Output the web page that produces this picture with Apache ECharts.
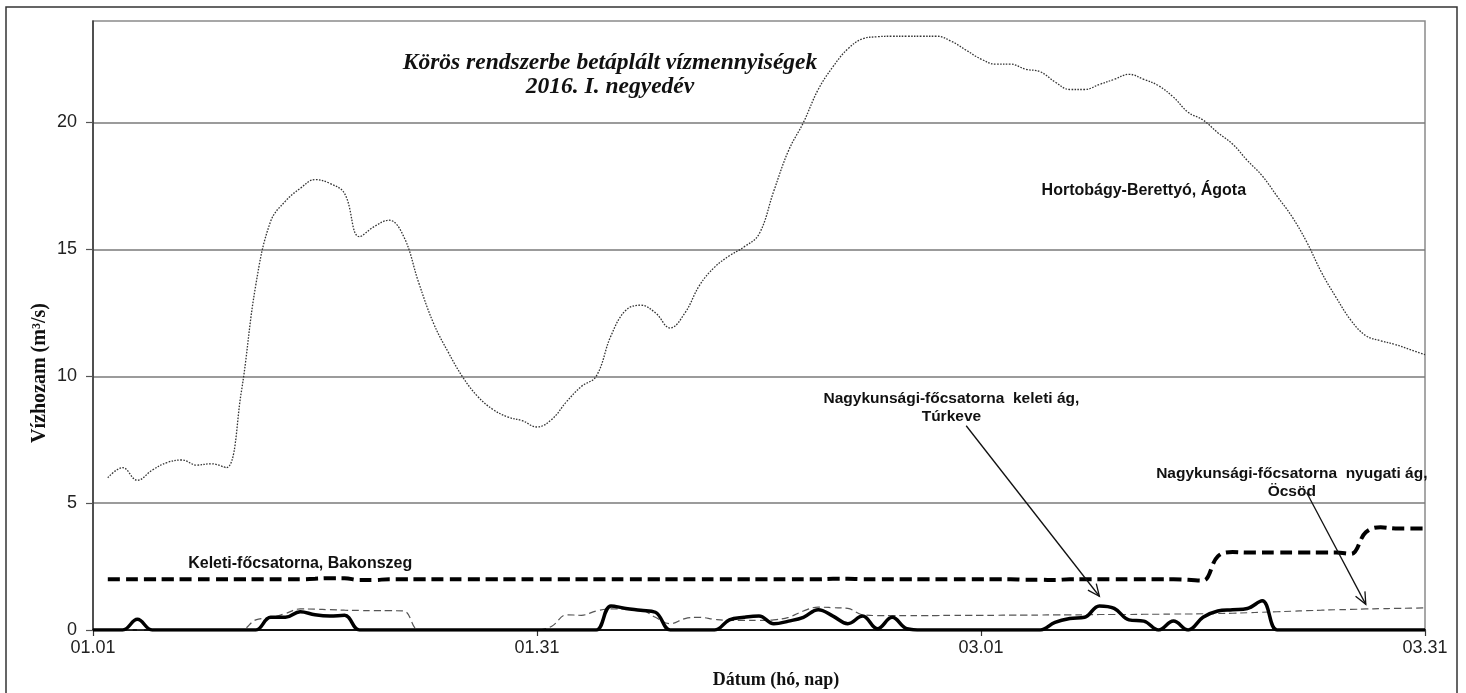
<!DOCTYPE html>
<html><head><meta charset="utf-8">
<script src="https://cdn.jsdelivr.net/npm/echarts@6/dist/echarts.min.js"></script>
<style>html,body{margin:0;padding:0;background:#fff}#c{width:1466px;height:693px}</style>
</head><body><div id="c"></div>
<script>
// ---- data ----
const months = [['01', 31], ['02', 29], ['03', 31]];
const categories = [];
months.forEach(function (m) { for (let d = 1; d <= m[1]; d++) categories.push(m[0] + '.' + String(d).padStart(2, '0')); });
const xTickLabels = ['01.01', '01.31', '03.01', '03.31'];
const yTicks = [0, 5, 10, 15, 20];

const seriesNames = ['Hortobágy-Berettyó, Ágota', 'Keleti-főcsatorna, Bakonszeg',
  'Nagykunsági-főcsatorna nyugati ág, Öcsöd', 'Nagykunsági-főcsatorna keleti ág, Túrkeve'];

const hortobagy = [null,
  6.0, 6.4, 5.9, 6.3, 6.6, 6.7, 6.5, 6.55, 6.4, 9.3,
  13.6, 16.1, 16.9, 17.4, 17.75, 17.6, 17.2, 15.5, 15.9, 16.15,
  15.5, 13.7, 12.1, 10.95, 9.95, 9.2, 8.7, 8.4, 8.25, 8.0,
  8.3, 9.0, 9.6, 10.0, 11.6, 12.6, 12.8, 12.5, 11.9, 12.5,
  13.6, 14.3, 14.75, 15.1, 15.6, 17.3, 18.9, 20.0, 21.3, 22.2,
  22.9, 23.3, 23.38, 23.4, 23.4, 23.4, 23.4, 23.2, 22.85, 22.5,
  22.3, 22.3, 22.1, 22.0, 21.6, 21.3, 21.3, 21.5, 21.7, 21.9,
  21.7, 21.45, 21.0, 20.4, 20.1, 19.6, 19.15, 18.5, 17.9, 17.1,
  16.3, 15.3, 14.1, 13.1, 12.2, 11.6, 11.4, 11.25, 11.05, 10.85];

const keleti = [null,
  2.0, 2.0, 2.0, 2.0, 2.0, 2.0, 2.0, 2.0, 2.0, 2.0,
  2.0, 2.0, 2.0, 2.0, 2.02, 2.04, 2.04, 1.97, 1.97, 2.0,
  2.0, 2.0, 2.0, 2.0, 2.0, 2.0, 2.0, 2.0, 2.0, 2.0,
  2.0, 2.0, 2.0, 2.0, 2.0, 2.0, 2.0, 2.0, 2.0, 2.0,
  2.0, 2.0, 2.0, 2.0, 2.0, 2.0, 2.0, 2.0, 2.0, 2.02,
  2.02, 2.0, 2.0, 2.0, 2.0, 2.0, 2.0, 2.0, 2.0, 2.0,
  2.0, 2.0, 1.98, 1.98, 1.97, 2.0, 2.0, 2.0, 2.0, 2.0,
  2.0, 2.0, 2.0, 1.98, 1.95, 2.9, 3.07, 3.05, 3.05, 3.05,
  3.05, 3.05, 3.05, 3.05, 3.0, 3.85, 4.05, 4.0, 4.0, 4.0];

const ocsod = [0,
  0, 0, 0, 0, 0, 0, 0, 0, 0, 0,
  0.4, 0.48, 0.65, 0.83, 0.82, 0.8, 0.78, 0.77, 0.76, 0.76,
  0.75, 0, 0, 0, 0, 0, 0, 0, 0, 0,
  0.15, 0.6, 0.58, 0.75, 0.83, 0.82, 0.8, 0.5, 0.25, 0.45,
  0.5, 0.42, 0.38, 0.38, 0.38, 0.4, 0.5, 0.75, 0.9, 0.88,
  0.85, 0.6, 0.57, 0.57, 0.57, 0.57, 0.57, 0.58, 0.58, 0.58,
  0.58, 0.59, 0.59, 0.59, 0.6, 0.6, 0.6, 0.61, 0.61, 0.61,
  0.62, 0.62, 0.63, 0.63, 0.64, 0.65, 0.66, 0.68, 0.7, 0.72,
  0.74, 0.76, 0.78, 0.8, 0.81, 0.83, 0.84, 0.85, 0.86, 0.87];

const turkeve = [0,
  0, 0, 0.42, 0, 0, 0, 0, 0, 0, 0,
  0, 0.5, 0.5, 0.72, 0.6, 0.55, 0.58, 0, 0, 0,
  0, 0, 0, 0, 0, 0, 0, 0, 0, 0,
  0, 0, 0, 0, 0.95, 0.85, 0.78, 0.7, 0, 0,
  0, 0, 0.4, 0.5, 0.55, 0.25, 0.35, 0.5, 0.8, 0.55,
  0.25, 0.55, 0.05, 0.5, 0.05, 0, 0, 0, 0, 0,
  0, 0, 0, 0, 0.3, 0.45, 0.5, 0.95, 0.85, 0.4,
  0.35, 0, 0.35, 0, 0.5, 0.75, 0.8, 0.85, 1.15, 0,
  0, 0, 0, 0, 0, 0, 0, 0, 0, 0];

// annotation anchors in data units [day index, value]
const labels = [
  { text: 'Hortobágy-Berettyó, Ágota', at: [71.3, 17.3], size: 16 },
  { text: 'Keleti-főcsatorna, Bakonszeg', at: [13.9, 2.63], size: 16 },
  { text: 'Nagykunsági-főcsatorna  keleti ág,\nTúrkeve', at: [57.5, 8.75], size: 15.5 },
  { text: 'Nagykunsági-főcsatorna  nyugati ág,\nÖcsöd', at: [80.6, 5.8], size: 15.5 }
];
const arrows = [
  { from: [58.7, 8.05], to: [67.84, 1.33] },
  { from: [82.2, 5.42], to: [86.28, 1.01] }
];

// ---- chart ----
const chart = echarts.init(document.getElementById('c'), null, { renderer: 'canvas' });
const sans = 'Liberation Sans, Arial, sans-serif';
const serif = 'Liberation Serif, Times New Roman, serif';
const showTick = function (idx, val) { return xTickLabels.indexOf(val) >= 0; };

chart.setOption({
  animation: false,
  backgroundColor: '#fff',
  grid: { left: 93, right: 41, top: 21, bottom: 63, show: true, borderColor: '#8a8a8a', borderWidth: 1.5,
          containLabel: false, outerBoundsMode: 'none' },
  xAxis: {
    type: 'category', data: categories, boundaryGap: false,
    axisLine: { lineStyle: { color: '#111', width: 2 } },
    axisTick: { interval: showTick, length: 6, lineStyle: { color: '#333', width: 1.2 } },
    axisLabel: { interval: showTick, color: '#222', fontSize: 18, fontFamily: sans, margin: 9 },
    splitLine: { show: false }
  },
  yAxis: {
    type: 'value', min: 0, max: 24, interval: 5,
    axisLine: { show: true, lineStyle: { color: '#333', width: 1.5 } },
    axisTick: { show: true, customValues: yTicks, length: 7, lineStyle: { color: '#555', width: 1.2 } },
    axisLabel: { customValues: yTicks, color: '#222', fontSize: 18, fontFamily: sans, margin: 16 },
    splitLine: { show: true, lineStyle: { color: '#7a7a7a', width: 1.5 } }
  },
  series: [
    { name: seriesNames[0], type: 'line', data: hortobagy, smooth: 0.4, symbol: 'none',
      lineStyle: { color: '#333', width: 1.3, type: [1.6, 1.4] }, z: 2 },
    { name: seriesNames[1], type: 'line', data: keleti, smooth: 0.4, symbol: 'none',
      lineStyle: { color: '#000', width: 4, type: [12, 6] }, z: 3 },
    { name: seriesNames[2], type: 'line', data: ocsod, smooth: 0.4, symbol: 'none',
      lineStyle: { color: '#555', width: 1.2, type: [7, 4] }, z: 3 },
    { name: seriesNames[3], type: 'line', data: turkeve, smooth: 0.4, symbol: 'none',
      lineStyle: { color: '#000', width: 3.5 }, z: 4 }
  ]
});

function px(p) { return chart.convertToPixel({ xAxisIndex: 0, yAxisIndex: 0 }, p); }

const g = [];
g.push({ type: 'rect', shape: { x: 6, y: 7, width: 1451, height: 700 }, style: { fill: 'none', stroke: '#333', lineWidth: 1.5 }, z: -10, silent: true });
g.push({ type: 'text', x: 610, y: 75, style: { text: 'Körös rendszerbe betáplált vízmennyiségek\n2016. I. negyedév',
  font: 'italic bold 23.5px ' + serif, fill: '#111', align: 'center', verticalAlign: 'middle', lineHeight: 24 }, z: 50 });
g.push({ type: 'text', x: 776, y: 680, style: { text: 'Dátum (hó, nap)', font: 'bold 18px ' + serif, fill: '#111', align: 'center', verticalAlign: 'middle' }, z: 50 });
g.push({ type: 'text', x: 40, y: 373, rotation: Math.PI / 2, style: { text: 'Vízhozam (m³/s)', font: 'bold 20px ' + serif, fill: '#111', align: 'center', verticalAlign: 'middle' }, z: 50 });

labels.forEach(function (l) {
  const p = px(l.at);
  g.push({ type: 'text', x: p[0], y: p[1], style: { text: l.text, font: 'bold ' + l.size + 'px ' + sans, fill: '#111',
    align: 'center', verticalAlign: 'middle', lineHeight: 18 }, z: 50 });
});
arrows.forEach(function (a) {
  const s = px(a.from), t = px(a.to);
  const dx = t[0] - s[0], dy = t[1] - s[1], L = Math.sqrt(dx * dx + dy * dy);
  const ux = dx / L, uy = dy / L, h = 13, ang = 0.42;
  const c = Math.cos(ang), sn = Math.sin(ang);
  const l1 = [t[0] - h * (ux * c - uy * sn), t[1] - h * (uy * c + ux * sn)];
  const l2 = [t[0] - h * (ux * c + uy * sn), t[1] - h * (uy * c - ux * sn)];
  g.push({ type: 'line', shape: { x1: s[0], y1: s[1], x2: t[0], y2: t[1] }, style: { stroke: '#111', lineWidth: 1.3 }, z: 50 });
  g.push({ type: 'polyline', shape: { points: [l1, t, l2] }, style: { stroke: '#111', lineWidth: 1.3, fill: 'none' }, z: 50 });
});
chart.setOption({ graphic: g });
</script>
</body></html>
